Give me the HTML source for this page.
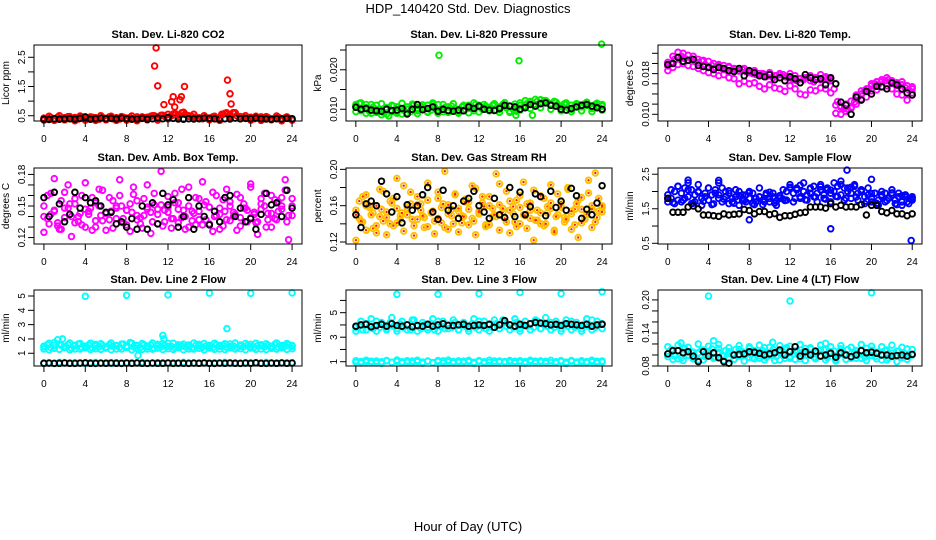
<!DOCTYPE html>
<html><head><meta charset="utf-8">
<style>
html,body{margin:0;padding:0;background:#fff;}
svg{display:block;font-family:"Liberation Sans",sans-serif;}
</style></head>
<body>
<svg id="chart" width="936" height="540" viewBox="0 0 936 540">
<text x="468" y="13" text-anchor="middle" font-size="13">HDP_140420  Std. Dev. Diagnostics</text>
<text x="468" y="531" text-anchor="middle" font-size="13">Hour of Day (UTC)</text>
</svg>
<script>
// ---------- data ----------
const xTicks = [0,4,8,12,16,20,24];
const co2Red = [0.42,0.40,0.44,0.38,0.45,0.41,0.43,0.47,0.40,0.44,0.39,0.46,0.42,0.40,0.45,0.43,0.38,0.44,0.41,0.46,0.40,0.43,0.39,0.45,0.42,0.44,0.40,0.46,0.41,0.43,0.45,0.48,0.50,0.46,0.52,0.48,0.55,0.50,0.58,0.52,0.60,0.55,0.50,0.47,0.45,0.43,0.40,0.44,0.42,0.46,0.40,0.43,0.55,0.60,0.52,0.58,0.50,0.47,0.44,0.42,0.45,0.40,0.43,0.46,0.41,0.44,0.39,0.42,0.45,0.40,0.43,0.41,0.38];
const co2Red2 = [0.35,0.48,0.34,0.50,0.36,0.47,0.33,0.49,0.35,0.46,0.34,0.50,0.36,0.48,0.34,0.47,0.35,0.49,0.33,0.46,0.36,0.50,0.35,0.52,0.40,0.56,0.45,0.62,0.48,0.55,0.42,0.50,0.36,0.48,0.34,0.58,0.45,0.60,0.40,0.50,0.35,0.48,0.34,0.47,0.36,0.49,0.33,0.46,0.35];
const co2OutT = [10.7,10.85,11.0,11.6,12.35,12.5,12.65,12.75,13.15,13.3,13.6,17.75,18.0,18.1,17.2,18.3];
const co2OutV = [2.2,2.82,1.52,0.88,0.98,1.15,0.8,0.55,1.05,1.15,1.5,1.72,1.25,0.9,0.55,0.6];
const co2Black = [0.38,0.37,0.40,0.38,0.39,0.40,0.38,0.41,0.46,0.38,0.40,0.42,0.40,0.41,0.39,0.42,0.40,0.38,0.39,0.41,0.38,0.40,0.42,0.40,0.44,0.41,0.39,0.38,0.40,0.39,0.40,0.42,0.41,0.40,0.38,0.40,0.39,0.42,0.40,0.41,0.40,0.42,0.40,0.39,0.38,0.40,0.39,0.41,0.40];

const presGreen = [0.0108,0.0115,0.0100,0.0112,0.0095,0.0105,0.0110,0.0098,0.0092,0.0104,0.0096,0.0108,0.0090,0.0102,0.0098,0.0106,0.0094,0.0112,0.0100,0.0108,0.0104,0.0110,0.0098,0.0106,0.0112,0.0100,0.0104,0.0096,0.0108,0.0102,0.0098,0.0106,0.0100,0.0110,0.0104,0.0112,0.0106,0.0100,0.0108,0.0104,0.0110,0.0098,0.0106,0.0112,0.0104,0.0108,0.0100,0.0095,0.0110,0.0106,0.0114,0.0118,0.0112,0.0120,0.0115,0.0122,0.0118,0.0114,0.0120,0.0112,0.0108,0.0114,0.0104,0.0110,0.0106,0.0112,0.0108,0.0114,0.0110,0.0106,0.0112,0.0104,0.0108];
const presGreen2 = [0.0112,0.0096,0.0104,0.0090,0.0100,0.0086,0.0102,0.0094,0.0106,0.0088,0.0100,0.0110,0.0096,0.0104,0.0092,0.0112,0.0098,0.0094,0.0106,0.0100,0.0090,0.0108,0.0102,0.0096,0.0110,0.0104,0.0098,0.0112,0.0100,0.0106,0.0092,0.0104,0.0116,0.0108,0.0120,0.0112,0.0124,0.0116,0.0110,0.0118,0.0106,0.0112,0.0100,0.0114,0.0106,0.0110,0.0102,0.0108,0.0112];
const presGreen3 = [0.0094,0.0116,0.0090,0.0112,0.0092,0.0114,0.0088,0.0110,0.0093,0.0115,0.0091,0.0113,0.0089,0.0111,0.0094,0.0116,0.0090,0.0112,0.0092,0.0114,0.0095,0.0110,0.0091,0.0116,0.0093,0.0112,0.0096,0.0114,0.0092,0.0117,0.0095,0.0113,0.0098,0.0122,0.0102,0.0125,0.0104,0.0122,0.0100,0.0118,0.0096,0.0116,0.0094,0.0114,0.0096,0.0118,0.0094,0.0115,0.0098];
const presOutT = [8.1,15.9,23.95,15.6,3.2,17.2];
const presOutV = [0.0237,0.0223,0.0265,0.0085,0.0083,0.0085];
const presBlack = [0.0105,0.0100,0.0102,0.0098,0.0096,0.0095,0.0100,0.0097,0.0098,0.0102,0.0088,0.0100,0.0112,0.0099,0.0102,0.0106,0.0095,0.0100,0.0097,0.0095,0.0098,0.0096,0.0106,0.0102,0.0108,0.0100,0.0098,0.0097,0.0102,0.0110,0.0108,0.0106,0.0100,0.0104,0.0112,0.0108,0.0114,0.0116,0.0110,0.0108,0.0100,0.0098,0.0102,0.0106,0.0110,0.0112,0.0108,0.0104,0.0100];

const tempMag = [0.0195,0.0200,0.0208,0.0212,0.0214,0.0210,0.0206,0.0209,0.0204,0.0202,0.0205,0.0198,0.0194,0.0196,0.0192,0.0195,0.0190,0.0188,0.0192,0.0186,0.0189,0.0185,0.0188,0.0184,0.0182,0.0180,0.0178,0.0176,0.0180,0.0174,0.0178,0.0172,0.0176,0.0180,0.0178,0.0174,0.0172,0.0168,0.0166,0.0170,0.0168,0.0172,0.0166,0.0164,0.0170,0.0168,0.0172,0.0170,0.0166,0.0150,0.0125,0.0114,0.0112,0.0110,0.0114,0.0124,0.0134,0.0140,0.0146,0.0150,0.0156,0.0160,0.0158,0.0164,0.0166,0.0168,0.0162,0.0160,0.0156,0.0158,0.0152,0.0148,0.0150];
const tempMag2 = [0.0186,0.0192,0.0198,0.0200,0.0196,0.0194,0.0190,0.0186,0.0182,0.0180,0.0176,0.0178,0.0172,0.0170,0.0160,0.0165,0.0160,0.0162,0.0155,0.0150,0.0158,0.0152,0.0150,0.0145,0.0156,0.0150,0.0140,0.0138,0.0148,0.0146,0.0152,0.0150,0.0142,0.0102,0.0100,0.0106,0.0112,0.0120,0.0130,0.0134,0.0146,0.0148,0.0154,0.0156,0.0150,0.0140,0.0138,0.0128,0.0142];
const tempMag3 = [0.0202,0.0214,0.0222,0.0220,0.0216,0.0214,0.0208,0.0206,0.0204,0.0200,0.0198,0.0196,0.0194,0.0190,0.0186,0.0190,0.0184,0.0186,0.0180,0.0178,0.0182,0.0176,0.0178,0.0174,0.0180,0.0176,0.0170,0.0172,0.0176,0.0172,0.0178,0.0174,0.0170,0.0118,0.0116,0.0120,0.0126,0.0138,0.0146,0.0150,0.0160,0.0164,0.0168,0.0172,0.0166,0.0162,0.0164,0.0156,0.0154];
const tempBlack = [0.0198,0.0200,0.0212,0.0204,0.0206,0.0208,0.0196,0.0194,0.0192,0.0188,0.0192,0.0190,0.0186,0.0184,0.0190,0.0176,0.0186,0.0182,0.0176,0.0174,0.0178,0.0168,0.0172,0.0166,0.0174,0.0170,0.0162,0.0178,0.0172,0.0168,0.0170,0.0158,0.0172,0.0160,0.0124,0.0118,0.0100,0.0134,0.0128,0.0145,0.0140,0.0155,0.0154,0.0150,0.0162,0.0158,0.0150,0.0142,0.0138];

const ambMag = [0.150,0.138,0.162,0.145,0.131,0.155,0.148,0.170,0.140,0.152,0.135,0.160,0.147,0.142,0.158,0.130,0.150,0.165,0.143,0.137,0.155,0.148,0.160,0.134,0.146,0.152,0.168,0.141,0.139,0.157,0.149,0.144,0.162,0.133,0.151,0.146,0.159,0.138,0.153,0.147,0.166,0.140,0.150,0.136,0.158,0.145,0.132,0.154,0.149,0.163,0.141,0.148,0.156,0.137,0.150,0.144,0.161,0.139,0.152,0.146,0.168,0.142,0.135,0.157,0.150,0.143,0.160,0.138,0.154,0.147,0.165,0.141,0.150];
const ambMag2 = [0.125,0.160,0.142,0.176,0.134,0.128,0.163,0.148,0.121,0.157,0.140,0.132,0.172,0.145,0.127,0.153,0.166,0.136,0.143,0.158,0.129,0.150,0.175,0.138,0.146,0.126,0.161,0.155,0.133,0.141,0.170,0.124,0.151,0.147,0.183,0.135,0.144,0.129,0.162,0.153,0.139,0.128,0.168,0.145,0.132,0.157,0.173,0.137,0.149,0.126,0.160,0.142,0.131,0.166,0.154,0.140,0.127,0.158,0.148,0.135,0.171,0.144,0.123,0.152,0.162,0.137,0.130,0.156,0.145,0.158,0.175,0.118,0.157];
const ambMag3 = [0.140,0.133,0.146,0.128,0.139,0.152,0.134,0.143,0.130,0.148,0.136,0.141,0.127,0.145,0.138,0.150,0.132,0.144,0.137,0.129,0.147,0.135,0.142,0.131,0.149,0.138,0.134,0.146,0.130,0.143,0.137,0.151,0.133,0.140,0.128,0.145,0.136,0.142,0.131,0.148,0.139,0.134,0.147,0.130,0.143,0.137,0.150,0.135,0.141];
const ambBlack = [0.158,0.140,0.163,0.152,0.135,0.142,0.163,0.148,0.158,0.153,0.155,0.150,0.144,0.144,0.133,0.135,0.130,0.138,0.128,0.150,0.128,0.153,0.133,0.162,0.151,0.156,0.130,0.140,0.158,0.128,0.150,0.140,0.132,0.145,0.135,0.158,0.160,0.140,0.148,0.135,0.138,0.128,0.142,0.162,0.151,0.153,0.140,0.165,0.148];

const rhOrange = [0.150,0.165,0.142,0.172,0.158,0.135,0.160,0.148,0.176,0.153,0.140,0.168,0.157,0.145,0.182,0.150,0.162,0.138,0.170,0.155,0.147,0.166,0.152,0.143,0.175,0.158,0.136,0.161,0.149,0.172,0.154,0.141,0.167,0.156,0.146,0.179,0.151,0.163,0.139,0.170,0.157,0.148,0.184,0.153,0.142,0.165,0.159,0.137,0.171,0.150,0.162,0.146,0.177,0.155,0.140,0.168,0.152,0.163,0.133,0.173,0.158,0.147,0.180,0.151,0.139,0.166,0.156,0.145,0.174,0.160,0.142,0.168,0.158];
const rhOrange2 = [0.122,0.146,0.170,0.133,0.160,0.152,0.130,0.178,0.143,0.128,0.165,0.138,0.190,0.149,0.132,0.158,0.175,0.127,0.145,0.162,0.136,0.185,0.152,0.129,0.168,0.141,0.198,0.134,0.156,0.173,0.131,0.149,0.164,0.139,0.182,0.128,0.154,0.170,0.137,0.160,0.148,0.195,0.133,0.157,0.176,0.130,0.151,0.166,0.140,0.186,0.135,0.155,0.122,0.144,0.171,0.138,0.159,0.183,0.131,0.150,0.164,0.142,0.178,0.134,0.156,0.125,0.169,0.147,0.188,0.136,0.196,0.154,0.160];
const rhOrange3 = [0.155,0.143,0.160,0.150,0.138,0.156,0.147,0.163,0.141,0.152,0.158,0.145,0.161,0.149,0.137,0.154,0.146,0.162,0.151,0.140,0.157,0.148,0.164,0.143,0.153,0.159,0.139,0.150,0.161,0.146,0.155,0.142,0.158,0.149,0.163,0.144,0.152,0.140,0.157,0.148,0.160,0.145,0.154,0.162,0.141,0.151,0.156,0.147,0.153];
const rhBlack = [0.150,0.136,0.162,0.165,0.160,0.187,0.173,0.153,0.170,0.141,0.161,0.155,0.160,0.172,0.180,0.153,0.145,0.177,0.155,0.160,0.146,0.165,0.168,0.176,0.160,0.153,0.146,0.168,0.150,0.147,0.180,0.148,0.175,0.150,0.159,0.173,0.170,0.149,0.176,0.158,0.165,0.155,0.179,0.171,0.146,0.156,0.150,0.163,0.182];

const flowBlue = [1.90,1.80,2.00,1.75,1.95,2.10,1.85,2.05,1.70,2.00,1.80,1.95,1.75,1.90,2.05,1.80,2.10,1.85,1.95,1.70,1.85,2.00,1.75,1.90,1.80,1.95,1.70,1.85,1.75,1.90,1.80,1.95,1.72,1.88,1.78,2.00,2.10,1.95,2.05,1.85,2.00,1.90,2.10,1.85,1.95,2.05,1.90,2.10,1.95,2.00,2.15,1.90,2.10,2.00,1.95,2.15,1.95,2.00,1.85,1.90,1.80,1.95,1.75,1.85,1.95,1.80,1.90,1.75,1.85,1.70,1.90,1.80,1.85];
const flowBlue2 = [1.70,2.05,1.65,2.15,1.70,1.80,2.25,1.65,1.90,2.20,1.60,1.85,2.10,1.62,1.95,2.25,1.70,2.00,1.65,1.80,2.05,1.60,1.90,1.70,2.00,1.65,1.80,2.10,1.62,1.95,1.70,1.85,1.60,1.80,2.05,1.75,2.20,1.70,2.10,1.80,2.25,1.75,1.95,2.15,1.70,2.20,1.80,2.05,1.70,2.25,1.85,2.30,1.75,2.10,1.80,2.20,1.75,2.05,1.65,2.10,1.70,1.95,1.60,2.00,1.70,1.80,2.05,1.65,1.95,1.60,1.85,1.65,1.75];
const flowBlue3 = [1.80,1.68,2.15,1.75,2.05,1.66,1.98,1.72,2.10,1.64,1.90,1.78,2.02,1.66,1.88,1.74,1.96,1.62,1.84,1.70,1.98,1.66,1.86,1.74,2.12,1.80,2.18,1.76,2.08,1.84,2.14,1.78,2.04,1.86,2.20,1.80,2.12,1.84,2.00,1.72,1.94,1.66,1.90,1.74,1.96,1.62,1.88,1.70,1.80];
const flowOutT = [17.6,16.0,23.9,8.0,20.0,2.0,5.0];
const flowOutV = [2.62,0.92,0.58,1.18,2.35,2.33,2.32];
const flowBlack = [1.80,1.40,1.40,1.40,1.55,1.58,1.50,1.32,1.32,1.30,1.28,1.35,1.32,1.34,1.35,1.48,1.45,1.35,1.42,1.42,1.33,1.36,1.25,1.30,1.30,1.34,1.38,1.40,1.55,1.55,1.55,1.52,1.65,1.55,1.60,1.55,1.56,1.55,1.62,1.32,1.60,1.60,1.42,1.38,1.45,1.35,1.35,1.30,1.35];

const l2Cyan = [1.50,1.60,1.40,1.75,1.95,1.55,1.45,1.60,1.35,1.55,1.65,1.40,1.50,1.58,1.38,1.62,1.45,1.55,1.40,1.60,1.48,1.52,1.42,1.65,1.50,1.75,1.45,1.55,1.40,1.60,1.50,1.58,1.35,1.62,1.45,1.55,1.70,1.48,1.40,1.60,1.52,1.45,1.58,1.38,1.55,1.62,1.42,1.50,1.56,1.40,1.60,1.48,1.55,1.42,1.65,1.50,1.40,1.58,1.45,1.55,1.62,1.40,1.52,1.60,1.45,1.55,1.48,1.62,1.42,1.55,1.50,1.60,1.55];
const l2Cyan2 = [1.30,1.70,1.35,1.65,1.40,1.72,1.30,1.68,1.38,1.70,1.32,1.66,1.36,1.72,1.30,1.64,1.40,1.70,1.34,1.68,1.30,1.72,1.36,1.66,1.32,1.70,1.38,1.64,1.30,1.72,1.34,1.68,1.36,1.70,1.30,1.66,1.38,1.72,1.32,1.68,1.36,1.70,1.30,1.66,1.34,1.72,1.38,1.68,1.32];
const l2Cyan3 = [1.45,1.25,1.55,1.28,1.48,1.24,1.52,1.30,1.46,1.26,1.50,1.28,1.44,1.25,1.54,1.30,1.47,1.24,1.51,1.27,1.45,1.29,1.53,1.26,1.48,1.28,1.50,1.25,1.46,1.30,1.52,1.24,1.45,1.28,1.55,1.26,1.48,1.30,1.50,1.25,1.47,1.28,1.53,1.26,1.46,1.29,1.51,1.27,1.48];
const l2CyanLow = [0.32,0.34,0.30,0.36,0.33,0.31,0.35,0.32,0.30,0.34,0.36,0.31,0.33,0.30,0.35,0.32,0.34,0.31,0.33,0.36,0.30,0.32,0.35,0.33,0.31,0.34,0.30,0.36,0.32,0.33,0.31,0.35,0.30,0.34,0.32,0.36,0.31,0.33,0.30,0.35,0.32,0.34,0.31,0.36,0.33,0.30,0.34,0.32,0.35];
const l2OutT = [4.0,8.0,12.0,16.0,20.0,24.0,17.7,11.5,9.1,1.8,11.6];
const l2OutV = [4.98,5.05,5.08,5.2,5.18,5.22,2.72,2.25,0.85,2.0,2.0];
const l2Black = [0.30,0.31,0.29,0.30,0.32,0.30,0.29,0.31,0.33,0.30,0.29,0.31,0.30,0.32,0.30,0.29,0.31,0.30,0.32,0.30,0.29,0.31,0.30,0.30,0.32,0.29,0.31,0.30,0.29,0.31,0.30,0.32,0.30,0.29,0.31,0.30,0.32,0.30,0.29,0.31,0.30,0.33,0.30,0.29,0.31,0.30,0.32,0.30,0.31];

const l3Cyan = [3.8,4.0,3.6,4.1,3.9,3.7,4.3,3.8,4.0,3.6,4.2,3.9,3.7,4.1,3.8,4.0,3.6,4.4,3.9,3.7,4.0,3.8,4.1,3.6,4.3,3.9,3.7,4.0,3.8,4.2,3.6,4.0,3.9,3.7,4.1,3.8,4.3,3.9,3.7,4.0,3.8,4.1,3.7,4.4,3.9,4.0,3.8,4.2,3.7,4.0,3.9,4.1,3.8,4.3,3.7,4.0,3.9,4.2,3.8,4.0,3.7,4.1,3.9,4.3,3.8,4.0,3.7,4.1,3.9,4.4,3.8,4.0,4.1];
const l3Cyan2 = [3.5,4.3,3.6,4.5,3.5,4.2,3.7,4.6,3.5,4.3,3.6,4.4,3.5,4.2,3.6,4.5,3.5,4.3,3.7,4.4,3.6,4.2,3.5,4.5,3.6,4.3,3.5,4.4,3.7,4.2,3.6,4.5,3.5,4.3,3.6,4.4,3.7,4.6,3.6,4.3,3.5,4.4,3.6,4.2,3.5,4.5,3.6,4.3,3.7];
const l3CyanLow = [0.95,1.02,0.98,1.05,0.92,1.00,1.08,0.96,1.03,0.99,0.94,1.06,1.00,0.97,1.04,0.93,1.01,1.07,0.98,1.02,0.95,1.05,0.99,0.96,1.03,1.00,0.94,1.06,0.98,1.02,0.97,1.04,0.95,1.01,0.99,1.05,0.96,1.03,0.93,1.00,1.02,0.97,1.04,0.98,0.95,1.01,0.99,1.03,0.97];
const l3CyanLow2 = [1.08,0.90,1.12,0.92,1.06,0.88,1.10,0.94,1.14,0.90,1.08,0.92,1.12,0.89,1.06,0.93,1.10,0.91,1.13,0.90,1.07,0.94,1.11,0.88,1.09,0.92,1.12,0.90,1.06,0.94,1.10,0.91,1.08,0.89,1.12,0.93,1.07,0.90,1.11,0.92,1.09,0.86,1.10,0.91,1.08,0.93,1.12,0.90,1.06];
const l3OutT = [4.0,8.0,12.0,16.0,20.0,24.0];
const l3OutV = [6.5,6.5,6.55,6.65,6.55,6.7];
const l3Black = [3.9,4.0,4.05,3.85,3.95,4.05,3.9,4.1,3.95,3.9,4.0,3.85,3.95,3.9,4.05,3.9,4.0,4.1,3.95,3.95,4.0,4.05,3.9,3.95,4.0,3.95,4.05,3.8,4.0,4.35,4.0,3.9,4.05,3.95,4.1,4.2,4.15,4.1,4.0,4.05,3.95,4.1,4.05,4.0,3.95,4.05,3.9,4.0,4.05];

const l4Cyan = [0.102,0.110,0.098,0.108,0.095,0.112,0.100,0.106,0.094,0.104,0.109,0.097,0.103,0.111,0.096,0.105,0.100,0.108,0.093,0.102,0.110,0.098,0.106,0.101,0.112,0.095,0.104,0.099,0.108,0.096,0.103,0.110,0.097,0.105,0.100,0.113,0.094,0.102,0.108,0.098,0.106,0.100,0.111,0.096,0.104,0.099,0.109,0.095,0.103,0.107,0.098,0.105,0.100,0.110,0.094,0.104,0.099,0.108,0.096,0.102,0.109,0.097,0.105,0.100,0.108,0.095,0.103,0.099,0.107,0.096,0.102,0.098,0.100];
const l4Cyan2 = [0.115,0.092,0.118,0.090,0.114,0.093,0.120,0.091,0.116,0.094,0.119,0.090,0.113,0.092,0.117,0.089,0.115,0.093,0.118,0.091,0.114,0.090,0.117,0.094,0.116,0.092,0.119,0.090,0.113,0.093,0.118,0.091,0.115,0.089,0.117,0.092,0.114,0.094,0.119,0.090,0.116,0.093,0.115,0.091,0.118,0.088,0.114,0.092,0.110];
const l4Cyan3 = [0.097,0.107,0.093,0.111,0.099,0.105,0.091,0.109,0.101,0.095,0.112,0.098,0.106,0.092,0.110,0.100,0.096,0.108,0.094,0.113,0.099,0.104,0.091,0.110,0.097,0.107,0.093,0.112,0.100,0.095,0.109,0.098,0.106,0.092,0.111,0.101,0.096,0.108,0.094,0.112,0.099,0.105,0.091,0.109,0.097,0.107,0.095,0.111,0.100];
const l4OutT = [4.0,12.0,20.0,1.3,4.5,10.3,15.5];
const l4OutV = [0.207,0.198,0.213,0.122,0.126,0.123,0.121];
const l4Black = [0.102,0.108,0.108,0.104,0.106,0.098,0.088,0.106,0.098,0.104,0.095,0.088,0.085,0.100,0.101,0.102,0.106,0.105,0.103,0.100,0.102,0.104,0.109,0.100,0.106,0.115,0.098,0.106,0.100,0.107,0.098,0.100,0.103,0.096,0.104,0.100,0.097,0.100,0.108,0.104,0.105,0.103,0.100,0.100,0.098,0.099,0.100,0.098,0.101];

const yTicks1 = [0.5,1,1.5,2,2.5];          const yLab1 = ["0.5","","1.5","","2.5"];
const yTicks2 = [0.010,0.015,0.020,0.025];  const yLab2 = ["0.010","","0.020",""];
const yTicks3 = [0.010,0.012,0.014,0.016,0.018,0.020,0.022]; const yLab3 = ["0.010","","","","0.018","",""];
const yTicks4 = [0.12,0.13,0.14,0.15,0.16,0.17,0.18]; const yLab4 = ["0.12","","","0.15","","","0.18"];
const yTicks5 = [0.12,0.14,0.16,0.18,0.20]; const yLab5 = ["0.12","","0.16","","0.20"];
const yTicks6 = [0.5,1,1.5,2,2.5];          const yLab6 = ["0.5","","1.5","","2.5"];
const yTicks7 = [1,2,3,4,5];                const yLab7 = ["1","2","3","4","5"];
const yTicks8 = [1,2,3,4,5,6];              const yLab8 = ["1","","3","","5",""];
const yTicks9 = [0.08,0.10,0.12,0.14,0.16,0.18,0.20]; const yLab9 = ["0.08","","","0.14","","","0.20"];

// ---------- drawing ----------
const NS = "http://www.w3.org/2000/svg";
const svg = document.getElementById('chart');
function el(tag, attrs, parent){
  const e = document.createElementNS(NS, tag);
  for (const k in attrs) e.setAttribute(k, attrs[k]);
  (parent||svg).appendChild(e);
  return e;
}
const colsX = [[34,302],[346,612],[658,922]];
const rowsY = [[45,121],[168,244],[290,366]];

function panel(ci, ri, title, ylab, ylim, ticks, labs, layers, key){
  const [x0,x1] = colsX[ci], [y0,y1] = rowsY[ri];
  const g = el('g', {});
  
  
  const xs = h => x0 + (h + 0.96) / 25.92 * (x1 - x0);
  const ys = v => y1 - (v - ylim[0]) / (ylim[1] - ylim[0]) * (y1 - y0);
  const t = el('text', {x:(x0+x1)/2, y:y0-7, 'text-anchor':'middle', 'font-size':11, 'font-weight':'bold'}, g);
  t.textContent = title;
  
  
  const yl = el('text', {x:0, y:0, 'text-anchor':'middle', 'font-size':10, transform:`translate(${x0-25},${(y0+y1)/2}) rotate(-90)`}, g);
  yl.textContent = ylab;
  
  
  const pg = el('g', {fill:'none'}, g);
  
  
  layers.forEach(L => {
    const n = L.v.length;
    L.v.forEach((v, i) => {
      const h = L.t ? L.t[i] : i * 24 / (n - 1);
      const cx = xs(h), cy = ys(v);
      const c = el('circle', {cx:cx.toFixed(1), cy:cy.toFixed(1), r:2.8, stroke:L.c, 'stroke-width':1.9, fill:'none'}, pg);
      
      
      if (L.dot) el('circle', {cx:cx.toFixed(1), cy:cy.toFixed(1), r:1.2, fill:L.dot}, pg);
    });
  });
  const b = el('rect', {x:x0, y:y0, width:x1-x0, height:y1-y0, fill:'none', stroke:'#000', 'stroke-width':1}, g);
  
  
  const xa = el('g', {}, g);
  
  
  el('line', {x1:xs(xTicks[0]), x2:xs(xTicks[xTicks.length-1]), y1:y1, y2:y1, stroke:'#000'}, xa);
  xTicks.forEach(h => {
    el('line', {x1:xs(h), x2:xs(h), y1:y1, y2:y1+6, stroke:'#000'}, xa);
    const tx = el('text', {x:xs(h), y:y1+21, 'text-anchor':'middle', 'font-size':10}, xa);
    tx.textContent = h;
  });
  const ya = el('g', {}, g);
  
  
  el('line', {x1:x0, x2:x0, y1:ys(ticks[0]), y2:ys(ticks[ticks.length-1]), stroke:'#000'}, ya);
  ticks.forEach((v, i) => {
    el('line', {x1:x0-6, x2:x0, y1:ys(v), y2:ys(v), stroke:'#000'}, ya);
    if (labs[i]) {
      const ty = el('text', {x:0, y:0, 'text-anchor':'middle', 'font-size':10, transform:`translate(${x0-9},${ys(v)}) rotate(-90)`}, ya);
      ty.textContent = labs[i];
    }
  });
}

const K = '#000';
panel(0,0,'Stan. Dev. Li-820 CO2','Licor ppm',[0.32,2.92],yTicks1,yLab1,
  [{v:co2Red,c:'#ff0000'},{v:co2Red2,c:'#ff0000'},{v:co2Black,c:K},{v:co2OutV,t:co2OutT,c:'#ff0000'}],'co2');
panel(1,0,'Stan. Dev. Li-820 Pressure','kPa',[0.00703,0.02627],yTicks2,yLab2,
  [{v:presGreen,c:'#00ee00'},{v:presGreen2,c:'#00ee00'},{v:presGreen3,c:'#00ee00'},{v:presOutV,t:presOutT,c:'#00ee00'},{v:presBlack,c:K}],'pressure');
panel(2,0,'Stan. Dev. Li-820 Temp.','degrees C',[0.00868,0.02363],yTicks3,yLab3,
  [{v:tempMag,c:'#ff00ff'},{v:tempMag2,c:'#ff00ff'},{v:tempMag3,c:'#ff00ff'},{v:tempBlack,c:K}],'li820-temp');
panel(0,1,'Stan. Dev. Amb. Box Temp.','degrees C',[0.1139,0.1861],yTicks4,yLab4,
  [{v:ambMag,c:'#ff00ff'},{v:ambMag2,c:'#ff00ff'},{v:ambMag3,c:'#ff00ff'},{v:ambBlack,c:K}],'amb-temp');
panel(1,1,'Stan. Dev. Gas Stream RH','percent',[0.1178,0.2015],yTicks5,yLab5,
  [{v:rhOrange,c:'#ffc000',dot:'#ff2000'},{v:rhOrange2,c:'#ffc000',dot:'#ff2000'},{v:rhOrange3,c:'#ffc000',dot:'#ff2000'},{v:rhBlack,c:K}],'rh');
panel(2,1,'Stan. Dev. Sample Flow','ml/min',[0.48,2.68],yTicks6,yLab6,
  [{v:flowBlue,c:'#0000ff'},{v:flowBlue2,c:'#0000ff'},{v:flowBlue3,c:'#0000ff'},{v:flowOutV,t:flowOutT,c:'#0000ff'},{v:flowBlack,c:K}],'sample-flow');
panel(0,2,'Stan. Dev. Line 2 Flow','ml/min',[0.11,5.42],yTicks7,yLab7,
  [{v:l2Cyan,c:'#00ffff'},{v:l2Cyan2,c:'#00ffff'},{v:l2Cyan3,c:'#00ffff'},{v:l2CyanLow,c:'#00ffff'},{v:l2OutV,t:l2OutT,c:'#00ffff'},{v:l2Black,c:K}],'line2');
panel(1,2,'Stan. Dev. Line 3 Flow','ml/min',[0.65,6.85],yTicks8,yLab8,
  [{v:l3Cyan,c:'#00ffff'},{v:l3Cyan2,c:'#00ffff'},{v:l3CyanLow,c:'#00ffff'},{v:l3CyanLow2,c:'#00ffff'},{v:l3OutV,t:l3OutT,c:'#00ffff'},{v:l3Black,c:K}],'line3');
panel(2,2,'Stan. Dev. Line 4 (LT) Flow','ml/min',[0.08,0.218],yTicks9,yLab9,
  [{v:l4Cyan,c:'#00ffff'},{v:l4Cyan2,c:'#00ffff'},{v:l4Cyan3,c:'#00ffff'},{v:l4OutV,t:l4OutT,c:'#00ffff'},{v:l4Black,c:K}],'line4');
</script>
</body></html>
